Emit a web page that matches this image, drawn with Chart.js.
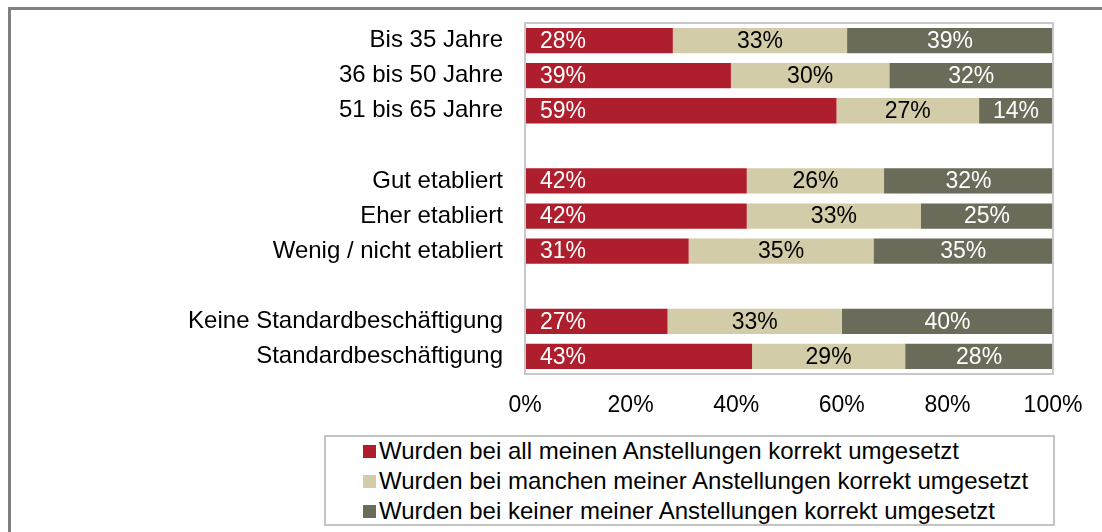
<!DOCTYPE html>
<html lang="de">
<head>
<meta charset="utf-8">
<title>Umsetzung nach Alter, Etablierung und Beschäftigung</title>
<script src="https://cdn.jsdelivr.net/npm/chart.js@4.4.1/dist/chart.umd.min.js"></script>
<style>
  html, body { margin: 0; padding: 0; background: #fff; overflow: hidden; }
  body { width: 1102px; height: 532px; position: relative; font-family: "Liberation Sans", Arial, sans-serif; }
  .frame {
    position: absolute; left: 8px; top: 7px; width: 1200px; height: 600px;
    border-left: 3px solid #808080; border-top: 3px solid #808080;
  }
  .chart-wrap { position: absolute; left: 0; top: 0; width: 1102px; height: 425px; }
  #legend {
    position: absolute; left: 324px; top: 435px; width: 727px; height: 87px;
    border: 2px solid #c4c4c4; box-sizing: content-box;
  }
  #legend .item {
    position: absolute; left: 37px; height: 30px; font-size: 24px; color: #000;
    white-space: nowrap; display: flex; align-items: center;
  }
  #legend .swatch { display: inline-block; width: 13px; height: 13px; margin-right: 3px; }
</style>
</head>
<body>
<div class="frame"></div>
<div class="chart-wrap"><canvas id="chart" width="1102" height="425"></canvas></div>
<div id="legend"></div>

<script>
// ── Data ─────────────────────────────────────────────────────
// empty strings are the spacer rows between the three groups
const categories = [
  'Bis 35 Jahre', '36 bis 50 Jahre', '51 bis 65 Jahre', '',
  'Gut etabliert', 'Eher etabliert', 'Wenig / nicht etabliert', '',
  'Keine Standardbeschäftigung', 'Standardbeschäftigung'
];
const allCorrect  = [28, 39, 59, null, 42, 42, 31, null, 27, 43];
const someCorrect = [33, 30, 27, null, 26, 33, 35, null, 33, 29];
const noneCorrect = [39, 32, 14, null, 32, 25, 35, null, 40, 28];
const seriesNames = [
  'Wurden bei all meinen Anstellungen korrekt umgesetzt',
  'Wurden bei manchen meiner Anstellungen korrekt umgesetzt',
  'Wurden bei keiner meiner Anstellungen korrekt umgesetzt'
];
const xTicks = [0, 20, 40, 60, 80, 100];

const COLORS = ['#AF1E2D', '#D2CDA8', '#6B6B59'];
const LABEL_COLORS = ['#fff', '#000', '#fff'];
const FONT = '"Liberation Sans", Arial, sans-serif';

// ── Plugins ──────────────────────────────────────────────────
// light frame around the plot area
const plotFrame = {
  id: 'plotFrame',
  afterDatasetsDraw(chart) {
    const { ctx, chartArea: a } = chart;
    ctx.save();
    ctx.strokeStyle = '#c8c8c8';
    ctx.lineWidth = 2;
    ctx.strokeRect(a.left, a.top, a.right - a.left, a.bottom - a.top);
    ctx.restore();
  }
};

// percentage labels inside the segments; first series sits at the bar start
const segmentLabels = {
  id: 'segmentLabels',
  afterDatasetsDraw(chart) {
    const { ctx, chartArea: a } = chart;
    ctx.save();
    ctx.font = '23px ' + FONT;
    ctx.textBaseline = 'middle';
    chart.data.datasets.forEach((ds, di) => {
      chart.getDatasetMeta(di).data.forEach((bar, i) => {
        const v = ds.data[i];
        if (v === null || v === undefined) return;
        const { x, base, y } = bar.getProps(['x', 'base', 'y'], true);
        const right = Math.min(x, a.right);
        ctx.fillStyle = LABEL_COLORS[di];
        if (di === 0) {
          ctx.textAlign = 'left';
          ctx.fillText(v + '%', base + 15, y + 1);
        } else {
          ctx.textAlign = 'center';
          ctx.fillText(v + '%', (base + right) / 2, y + 1);
        }
      });
    });
    ctx.restore();
  }
};

// ── Chart ────────────────────────────────────────────────────
const datasets = [allCorrect, someCorrect, noneCorrect].map((data, i) => ({
  label: seriesNames[i],
  data,
  backgroundColor: COLORS[i],
  borderWidth: 0,
  barPercentage: 0.72,
  categoryPercentage: 1
}));

new Chart(document.getElementById('chart'), {
  type: 'bar',
  data: { labels: categories, datasets },
  options: {
    indexAxis: 'y',
    responsive: false,
    animation: false,
    layout: { padding: { top: 23, right: 49, left: 0, bottom: 0 } },
    plugins: { legend: { display: false }, tooltip: { enabled: false } },
    scales: {
      x: {
        stacked: true,
        min: 0,
        max: 100,
        afterBuildTicks: s => { s.ticks = xTicks.map(v => ({ value: v })); },
        afterFit: s => { s.height = 51; s.paddingLeft = 0; s.paddingRight = 0; },
        grid: { display: false, drawTicks: false },
        border: { display: false },
        ticks: {
          padding: 18,
          color: '#000',
          font: { family: FONT, size: 23 },
          callback: v => v + '%'
        }
      },
      y: {
        stacked: true,
        // fixed label column; no extra top/bottom room for the labels
        afterFit: s => { s.width = 525; s.paddingTop = 0; s.paddingBottom = 0; },
        grid: { display: false, drawTicks: false },
        border: { display: false },
        ticks: {
          padding: 22,
          color: '#000',
          font: { family: FONT, size: 24 }
        }
      }
    }
  },
  plugins: [plotFrame, segmentLabels]
});

// ── Legend ───────────────────────────────────────────────────
const legendEl = document.getElementById('legend');
seriesNames.forEach((name, i) => {
  const item = document.createElement('div');
  item.className = 'item';
  item.style.top = (-1 + i * 30) + 'px';
  item.innerHTML = `<span class="swatch" style="background:${COLORS[i]}"></span>${name}`;
  legendEl.appendChild(item);
});
</script>
</body>
</html>
